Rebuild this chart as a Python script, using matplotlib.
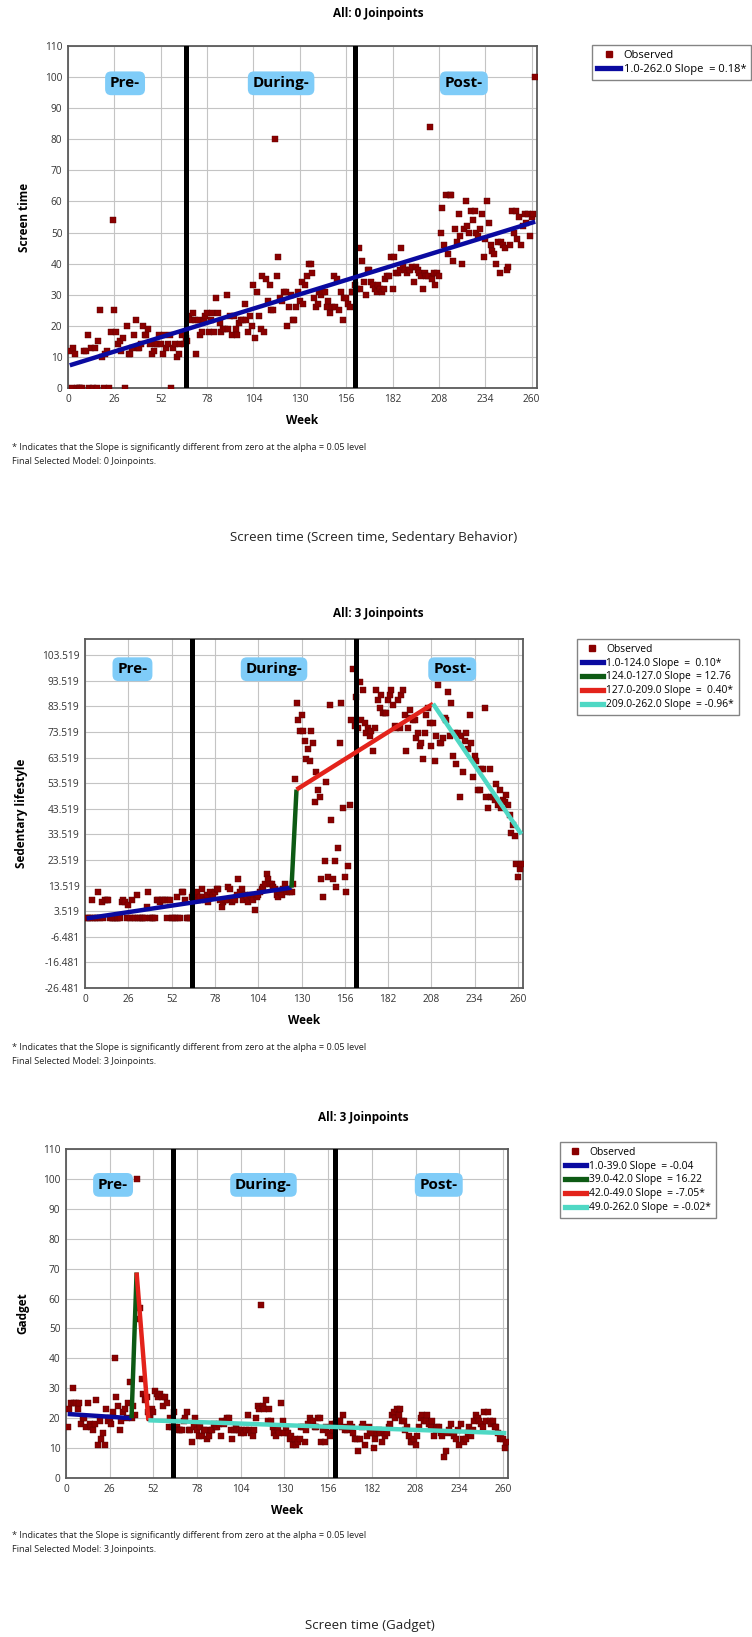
import numpy as np
import matplotlib
matplotlib.use('Agg')
import matplotlib.pyplot as plt
from matplotlib.lines import Line2D

plt.rcParams['font.family'] = ['Open Sans', 'DejaVu Sans']

weeks = list(range(1, 263))

screen = [12, 0, 13, 11, 0, 0, 0, 0, 12, 12,
          17, 0, 13, 0, 13, 0, 15, 25, 10, 0,
          11, 12, 0, 18, 54, 25, 18, 14, 15, 12,
          16, 0, 20, 11, 11, 13, 17, 22, 13, 13,
          14, 20, 17, 17, 19, 14, 11, 12, 14, 14,
          17, 14, 11, 17, 13, 14, 17, 0, 13, 14,
          10, 11, 14, 17, 14, 16, 15, 23, 22, 24,
          22, 11, 22, 17, 18, 22, 23, 24, 18, 22,
          24, 18, 29, 24, 21, 18, 19, 19, 30, 19,
          23, 17, 23, 19, 17, 21, 22, 22, 27, 22,
          18, 23, 20, 33, 16, 31, 23, 19, 36, 18,
          35, 28, 33, 25, 25, 80, 36, 42, 29, 28,
          31, 31, 20, 26, 30, 22, 22, 26, 31, 28,
          34, 27, 33, 36, 40, 40, 37, 29, 26, 27,
          31, 30, 31, 31, 26, 28, 24, 26, 36, 26,
          35, 25, 31, 22, 29, 29, 27, 26, 31, 31,
          33, 32, 45, 32, 41, 34, 30, 38, 38, 34,
          33, 32, 31, 33, 32, 31, 32, 35, 36, 36,
          42, 32, 42, 37, 37, 38, 45, 39, 38, 37,
          38, 38, 39, 34, 39, 38, 37, 36, 32, 37,
          36, 36, 84, 35, 37, 33, 37, 36, 50, 58,
          46, 62, 43, 62, 62, 41, 51, 47, 56, 49,
          40, 51, 60, 52, 50, 57, 54, 57, 50, 49,
          51, 56, 42, 48, 60, 53, 46, 44, 43, 40,
          47, 37, 47, 46, 45, 38, 39, 46, 57, 50,
          57, 48, 55, 46, 52, 56, 53, 56, 49, 55,
          56, 100]

sedentary = [1, 1, 1, 8, 1, 1, 1, 11, 1, 7,
             1, 8, 8, 8, 1, 1, 1, 1, 1, 1,
             1, 7, 8, 7, 1, 6, 1, 8, 1, 1,
             10, 1, 1, 1, 1, 1, 5, 11, 1, 1,
             1, 1, 8, 8, 7, 8, 8, 8, 1, 8,
             8, 1, 1, 1, 9, 1, 1, 11, 11, 8,
             1, 1, 1, 9, 10, 10, 11, 8, 9, 12,
             9, 8, 10, 7, 11, 9, 10, 11, 12, 12,
             8, 5, 7, 8, 8, 13, 12, 7, 8, 8,
             10, 16, 11, 12, 8, 10, 9, 7, 10, 9,
             8, 4, 9, 10, 11, 12, 13, 14, 18, 16,
             14, 14, 13, 12, 10, 9, 11, 10, 12, 14,
             11, 12, 11, 11, 14, 55, 85, 78, 74, 80,
             74, 70, 63, 67, 62, 74, 69, 46, 58, 51,
             48, 16, 9, 23, 54, 17, 84, 39, 16, 23,
             13, 28, 69, 85, 44, 17, 11, 21, 45, 78,
             98, 76, 87, 75, 93, 78, 90, 77, 73, 75,
             72, 74, 66, 75, 90, 86, 83, 88, 81, 81,
             81, 86, 88, 90, 84, 76, 75, 86, 75, 88,
             90, 80, 66, 75, 82, 79, 78, 78, 71, 73,
             68, 69, 63, 73, 80, 83, 77, 68, 77, 62,
             72, 92, 69, 69, 71, 79, 78, 89, 72, 85,
             64, 73, 61, 73, 48, 72, 58, 70, 73, 67,
             80, 69, 56, 64, 62, 51, 51, 59, 59, 83,
             48, 44, 59, 48, 48, 47, 53, 45, 51, 44,
             47, 46, 49, 45, 41, 34, 37, 33, 22, 17,
             20, 22]

gadget = [17, 23, 25, 30, 25, 25, 23, 25, 18, 20,
          20, 17, 25, 18, 17, 16, 18, 26, 11, 19,
          13, 15, 11, 23, 19, 20, 18, 22, 40, 27,
          24, 16, 19, 22, 23, 20, 25, 32, 20, 24,
          21, 100, 53, 57, 33, 28, 26, 27, 22, 20,
          23, 22, 29, 28, 27, 28, 27, 24, 27, 25,
          17, 20, 17, 22, 17, 17, 16, 16, 16, 19,
          20, 22, 16, 16, 12, 17, 20, 16, 14, 17,
          14, 16, 16, 13, 14, 16, 16, 18, 17, 17,
          18, 14, 19, 18, 19, 20, 20, 16, 13, 16,
          17, 16, 16, 15, 16, 15, 16, 21, 16, 15,
          14, 16, 20, 24, 23, 58, 24, 23, 26, 19,
          23, 19, 17, 15, 14, 16, 15, 25, 19, 15,
          17, 15, 13, 14, 11, 13, 11, 12, 13, 17,
          17, 12, 16, 18, 20, 19, 19, 17, 17, 20,
          20, 12, 16, 12, 17, 15, 14, 18, 16, 18,
          18, 19, 19, 17, 21, 16, 16, 17, 18, 17,
          15, 13, 13, 9, 13, 17, 18, 11, 14, 17,
          15, 15, 10, 13, 15, 16, 15, 12, 15, 14,
          15, 17, 18, 21, 22, 20, 23, 21, 23, 19,
          19, 16, 17, 14, 12, 12, 13, 11, 14, 17,
          20, 21, 19, 19, 21, 18, 17, 19, 14, 16,
          17, 17, 15, 14, 7, 9, 15, 16, 18, 15,
          14, 13, 16, 11, 18, 13, 12, 13, 15, 17,
          14, 16, 19, 21, 20, 19, 18, 17, 22, 19,
          22, 19, 18, 19, 17, 17, 15, 13, 14, 13,
          10, 12]

assert len(screen) == 262 and len(sedentary) == 262 and len(gadget) == 262

# joinpoint model fits: segment end weeks and fitted values
jp_weeks1 = [1, 262]
jp_fit1 = [7.3, 53.5]
seg_labels1 = ['1.0-262.0 Slope  = 0.18*']

jp_weeks2 = [1, 124, 127, 209, 262]
jp_fit2 = [0.7, 12.7, 51.0, 84.5, 33.6]
seg_labels2 = ['1.0-124.0 Slope  =  0.10*', '124.0-127.0 Slope  = 12.76',
               '127.0-209.0 Slope  =  0.40*', '209.0-262.0 Slope  = -0.96*']

jp_weeks3 = [1, 39, 42, 49, 262]
jp_fit3 = [21.4, 20.0, 68.7, 19.3, 15.0]
seg_labels3 = ['1.0-39.0 Slope  = -0.04', '39.0-42.0 Slope  = 16.22',
               '42.0-49.0 Slope  = -7.05*', '49.0-262.0 Slope  = -0.02*']

# pandemic phase boundaries (week) and label positions
phase_names = ['Pre-', 'During-', 'Post-']
phase_lines1 = [66, 161]
phase_x1 = [32, 119.5, 222]
phase_lines2 = [64.5, 162.5]
phase_x2 = [28.5, 113.5, 220.5]
phase_lines3 = [63.4, 160.3]
phase_x3 = [28, 117.5, 221.8]

xticks = [0, 26, 52, 78, 104, 130, 156, 182, 208, 234, 260]
yticks_std = [0, 10, 20, 30, 40, 50, 60, 70, 80, 90, 100, 110]
yticks_sed = [-26.481, -16.481, -6.481, 3.519, 13.519, 23.519, 33.519, 43.519,
              53.519, 63.519, 73.519, 83.519, 93.519, 103.519]

obs_color = '#8a0000'
seg_colors = ['#0a0aa0', '#0d5a14', '#e3231b', '#4fd8c4']
box_color = '#7fccf8'

W, H = 752, 1637
fig = plt.figure(figsize=(W / 100, H / 100), dpi=100)


def px_axes(left, top, right, bottom):
    return fig.add_axes([left / W, 1 - bottom / H, (right - left) / W, (bottom - top) / H])


def draw_panel(ax, values, jpw, jpf, ylim, yticks, ylabel, lines, phase_x, label_y, ytickfmt):
    ax.set_xlim(0, 263)
    ax.set_ylim(*ylim)
    ax.set_xticks(xticks)
    ax.set_yticks(yticks)
    ax.set_yticklabels([ytickfmt(t) for t in yticks])
    ax.grid(True, color='#c4c4c4', lw=0.8)
    ax.set_axisbelow(True)
    ax.tick_params(length=0, labelsize=7.3, colors='#333333', pad=4)
    for s in ax.spines.values():
        s.set_color('#5a5a5a')
        s.set_linewidth(1.3)
    ax.plot(weeks, values, ls='none', marker='s', ms=3.8, color=obs_color, mec='#5a0000', mew=0.3, zorder=3)
    for lx in lines:
        ax.axvline(lx, color='black', lw=3.6, zorder=4)
    for i in range(len(jpw) - 1):
        ax.plot(jpw[i:i + 2], jpf[i:i + 2], color=seg_colors[i], lw=3.2, solid_capstyle='butt', zorder=5)
    for name, x in zip(phase_names, phase_x):
        ax.text(x, label_y, name, ha='center', va='center', fontsize=11, fontweight='bold', zorder=6,
                bbox=dict(boxstyle='round,pad=0.32,rounding_size=0.4', fc=box_color, ec='none'))
    ax.set_xlabel('Week', fontsize=8.5, fontweight='bold', labelpad=7)
    ax.set_ylabel(ylabel, fontsize=8.5, fontweight='bold', labelpad=10)


def add_legend(n, labels, left, top, size):
    handles = [Line2D([], [], ls='none', marker='s', ms=3.8, color=obs_color)]
    names = ['Observed']
    for i in range(n):
        handles.append(Line2D([], [], color=seg_colors[i], lw=3.8))
        names.append(labels[i])
    leg = fig.legend(handles, names, loc='upper left', bbox_to_anchor=(left / W, 1 - top / H),
                     fontsize=size, frameon=True, fancybox=False, edgecolor='#666666',
                     borderaxespad=0, handlelength=2.1, handletextpad=0.3,
                     labelspacing=0.28, borderpad=0.45)
    leg.get_frame().set_linewidth(1.0)


def footnote(y, n):
    fig.text(12 / W, 1 - y / H, '* Indicates that the Slope is significantly different from zero at the alpha = 0.05 level',
             fontsize=6.6, va='center', color='#222222')
    fig.text(12 / W, 1 - (y + 14) / H, 'Final Selected Model: %d Joinpoints.' % n,
             fontsize=6.6, va='center', color='#222222')


# panel 1: screen time
ax1 = px_axes(68, 46, 537, 388)
draw_panel(ax1, screen, jp_weeks1, jp_fit1, (0, 110), yticks_std, 'Screen time',
           phase_lines1, phase_x1, 98, lambda t: '%d' % t)
fig.text(378 / W, 1 - 14 / H, 'All: 0 Joinpoints', ha='center', va='center', fontsize=8.5, fontweight='bold')
add_legend(1, seg_labels1, 592, 45, 8)
footnote(448, 0)
fig.text(374 / W, 1 - 537 / H, 'Screen time (Screen time, Sedentary Behavior)', ha='center', va='center',
         fontsize=9.5, color='#222222')

# panel 2: sedentary lifestyle
ax2 = px_axes(85, 639, 523, 988)
draw_panel(ax2, sedentary, jp_weeks2, jp_fit2, (-26.481, 109.8), yticks_sed, 'Sedentary lifestyle',
           phase_lines2, phase_x2, 98, lambda t: '%.3f' % t)
fig.text(378 / W, 1 - 614 / H, 'All: 3 Joinpoints', ha='center', va='center', fontsize=8.5, fontweight='bold')
add_legend(4, seg_labels2, 577, 639, 7.4)
footnote(1048, 3)

# panel 3: gadget
ax3 = px_axes(66, 1149, 508, 1478)
draw_panel(ax3, gadget, jp_weeks3, jp_fit3, (0, 110), yticks_std, 'Gadget',
           phase_lines3, phase_x3, 98, lambda t: '%d' % t)
fig.text(363 / W, 1 - 1118 / H, 'All: 3 Joinpoints', ha='center', va='center', fontsize=8.5, fontweight='bold')
add_legend(4, seg_labels3, 560, 1142, 7.4)
footnote(1535, 3)
fig.text(370 / W, 1 - 1626 / H, 'Screen time (Gadget)', ha='center', va='center', fontsize=9.5, color='#222222')

fig.savefig('out.png', dpi=100, facecolor='white')
